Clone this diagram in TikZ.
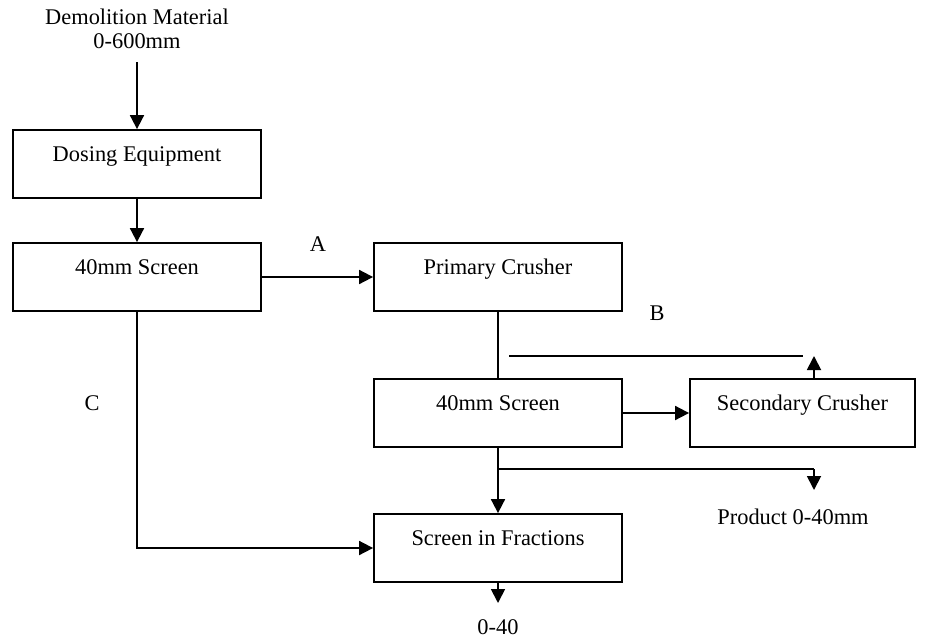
\documentclass[tikz,border=0pt]{standalone}
\usepackage{fontspec}
\setmainfont{Liberation Serif}
\usetikzlibrary{arrows.meta}
\begin{document}
\begin{tikzpicture}[x=1pt,y=-1pt,
  every node/.style={font=\fontsize{22.4}{24}\selectfont},
  stagebox/.style={draw, line width=1.8pt, inner sep=0pt, minimum width=248pt,
    text height=31pt, text depth=37pt},
  flow/.style={line width=1.8pt},
  arr/.style={flow, -{Triangle[length=14pt,width=14pt]}},
  lbl/.style={inner sep=0pt}]
\useasboundingbox (0,0) rectangle (934,643);
% nodes
\node[lbl, align=center] (demo) at (137,29) {Demolition Material\\0-600mm};
\node[stagebox] (dose) at (137,164) {Dosing Equipment};
\node[stagebox] (scr1) at (137,277) {40mm Screen};
\node[stagebox] (prim) at (498,277) {Primary Crusher};
\node[stagebox] (scr2) at (498,413) {40mm Screen};
\node[stagebox, minimum width=225pt] (sec) at (802.5,413) {Secondary Crusher};
\node[stagebox] (frac) at (498,548) {Screen in Fractions};
\node[lbl] (la) at (318,244) {A};
\node[lbl] (lb) at (657,313) {B};
\node[lbl] (lc) at (92,403) {C};
\node[lbl] (prod) at (793,517) {Product 0-40mm};
\node[lbl] (out) at (498,627) {0-40};
% coordinates
\coordinate (demoend) at (137,62);
\coordinate (b1) at (509,356);
\coordinate (b2) at (803,356);
\coordinate (secup) at (814,379);
\coordinate (sectip) at (814,356);
\coordinate (j1) at (498,469);
\coordinate (j2) at (814,469);
\coordinate (prodtip) at (814,490);
\coordinate (outtip) at (498,603);
% connectors
\draw[arr] (demoend) -- (dose.north);
\draw[arr] (dose.south) -- (scr1.north);
\draw[arr] (scr1.east) -- (prim.west);
\draw[flow] (prim.south) -- (scr2.north);
\draw[flow] (b1) -- (b2);
\draw[arr] (secup) -- (sectip);
\draw[arr] (scr2.east) -- (sec.west);
\draw[arr] (scr2.south) -- (frac.north);
\draw[flow] (j1) -- (j2);
\draw[arr] (j2) -- (prodtip);
\draw[arr] (frac.south) -- (outtip);
\draw[arr] (scr1.south) |- (frac.west);
\end{tikzpicture}
\end{document}
